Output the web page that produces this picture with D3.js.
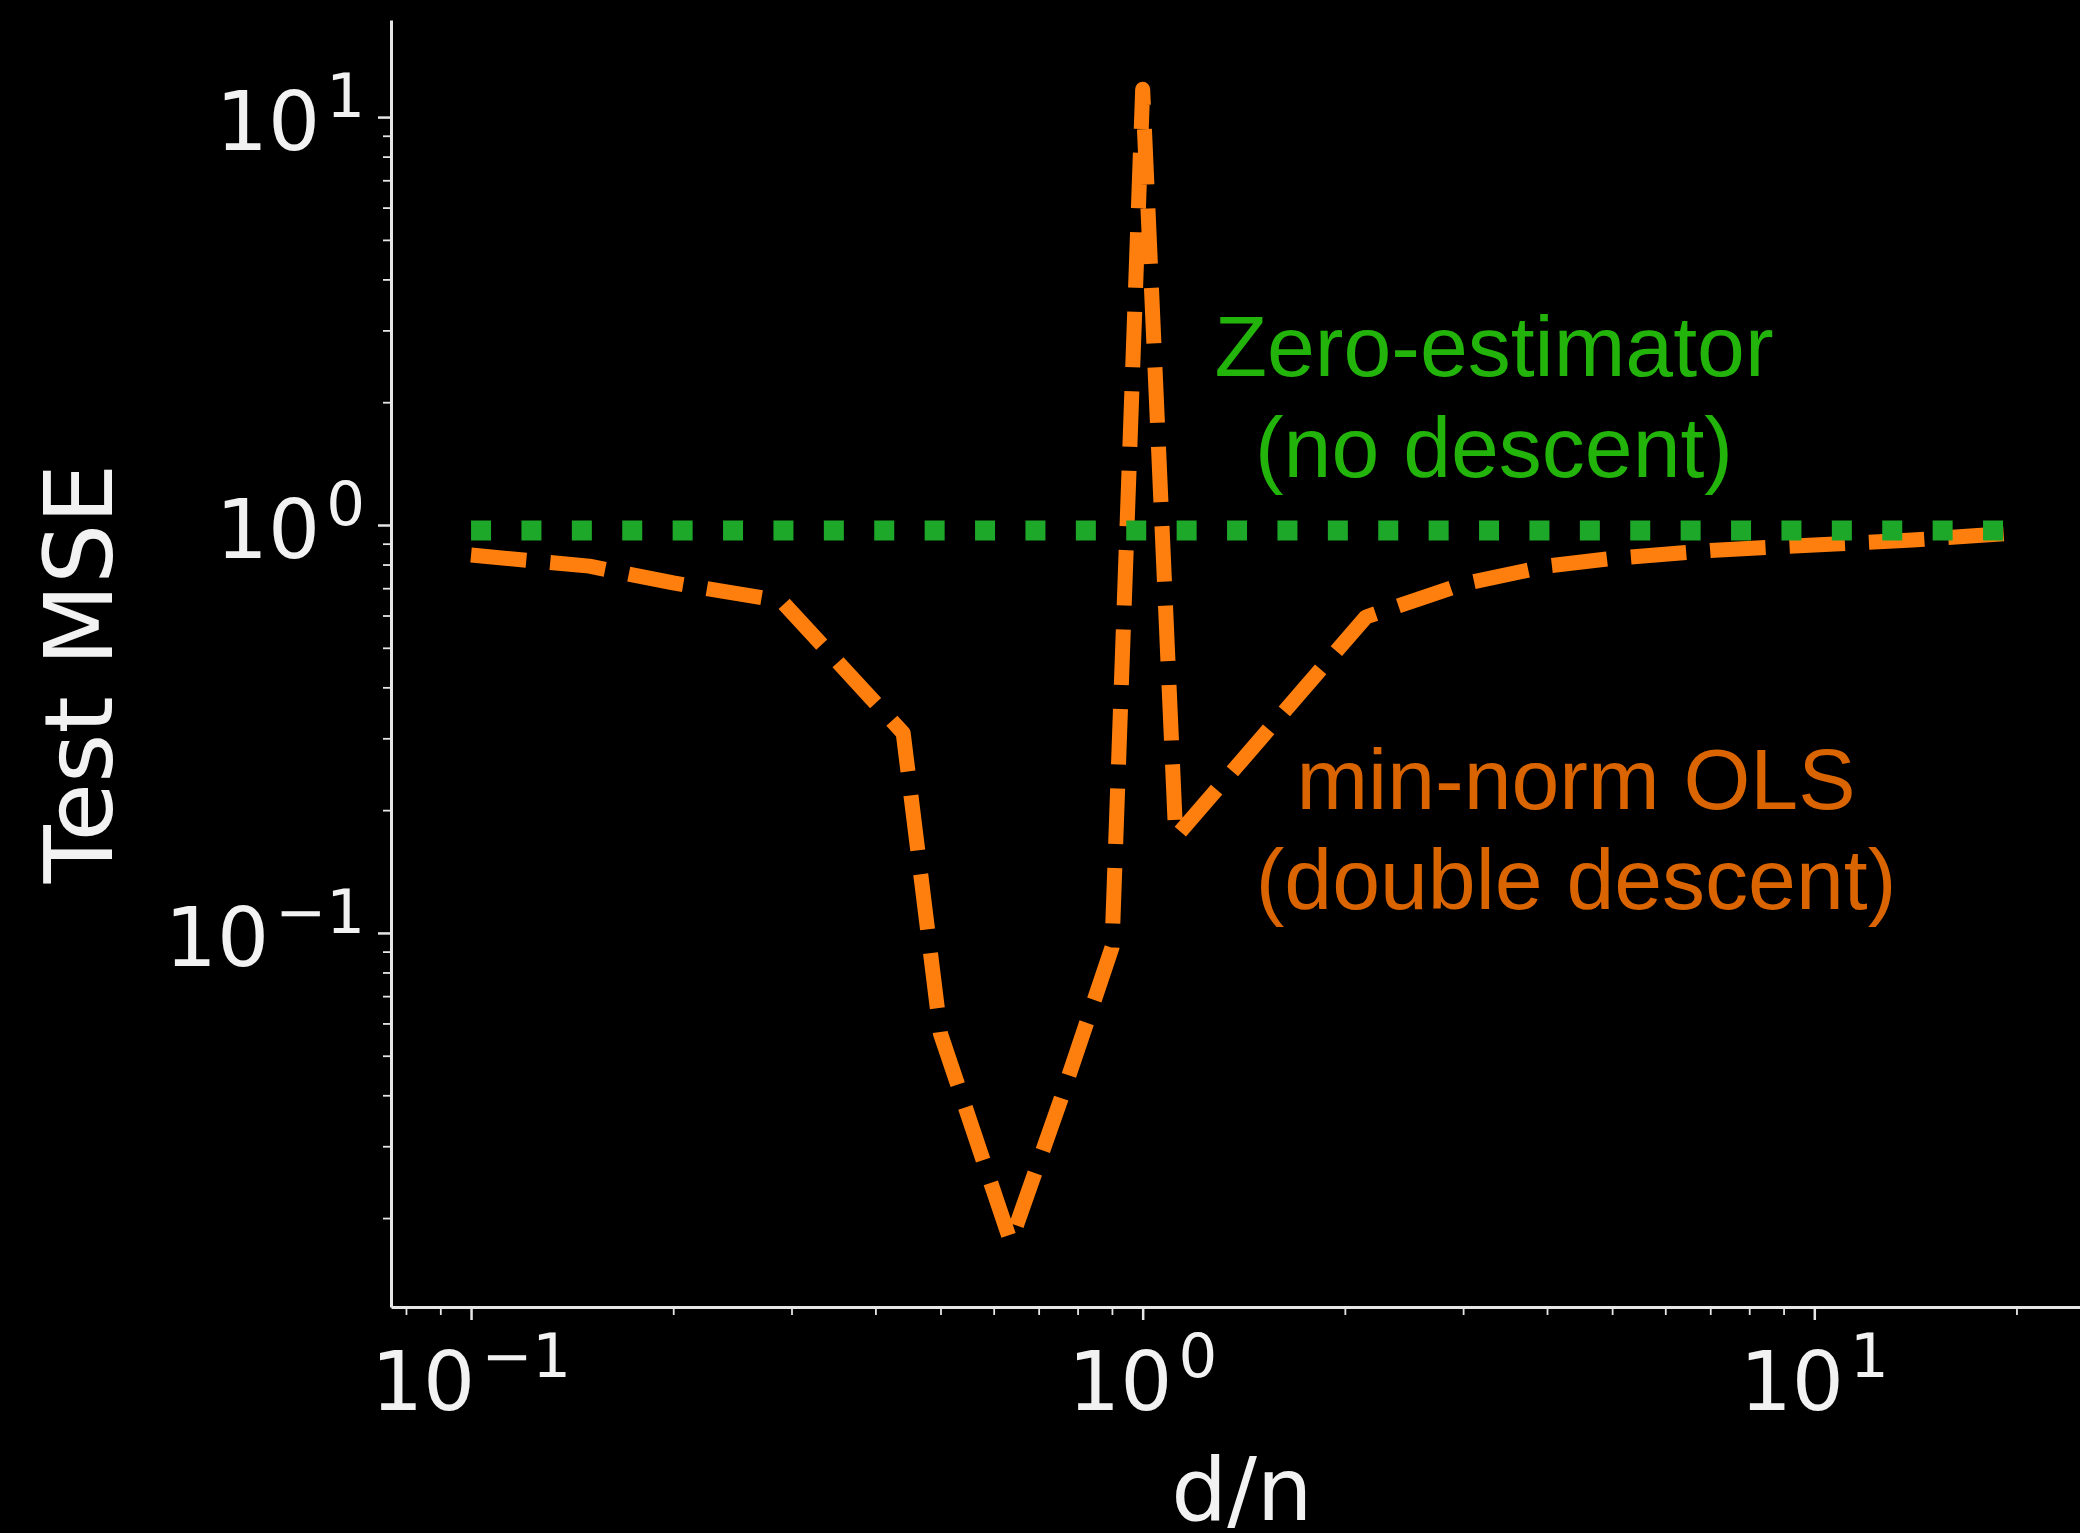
<!DOCTYPE html>
<html><head><meta charset="utf-8">
<script src="https://cdn.jsdelivr.net/npm/d3@7"></script>
<style>html,body{margin:0;padding:0;background:#000;overflow:hidden}</style>
</head><body><svg id="chart" width="2080" height="1533"></svg>
<script>
// ---- data ----
const dn      = [0.1,  0.15, 0.2,  0.29, 0.44, 0.5,    0.636,  0.755, 0.9,   1.0,  1.12, 2.15, 3,     4,     5,     7,     10,    14,    20];
const mseOLS  = [0.844,0.793,0.721,0.651,0.309,0.0566, 0.0175, 0.039, 0.092, 11.7, 0.172,0.595,0.717, 0.793, 0.828, 0.866, 0.893, 0.919, 0.956];
const zeroDn  = [0.1, 20];
const mseZero = [0.97, 0.97];
const majorTicks = [0.1, 1, 10];
const majorExp   = ["\u22121", "0", "1"];
const xMinor = [0.08,0.09,0.2,0.3,0.4,0.5,0.6,0.7,0.8,0.9,2,3,4,5,6,7,8,9,20];
const yMinor = [0.02,0.03,0.04,0.05,0.06,0.07,0.08,0.09,0.2,0.3,0.4,0.5,0.6,0.7,0.8,0.9,2,3,4,5,6,7,8,9];
const xLabel = "d/n";
const yLabel = "Test MSE";
const greenText = ["Zero-estimator", "(no descent)"];
const orangeText = ["min-norm OLS", "(double descent)"];

// ---- layout ----
const L = 391, T = 20, W = 1702, H = 1287;
const svg = d3.select("#chart");
svg.append("rect").attr("width", 2080).attr("height", 1533).attr("fill", "#000");

const x = d3.scaleLog().domain([0.0760, 26.0]).range([L, L + W]);
const y = d3.scaleLog().domain([Math.pow(10,-1.917), Math.pow(10,1.238)]).range([T + H, T]);

const axisCol = "#e6e6e6";

// x axis
const gx = svg.append("g").attr("transform", `translate(0,${T+H})`);
gx.call(d3.axisBottom(x).tickValues(majorTicks).tickSize(13).tickSizeOuter(0).tickFormat(""));
const gxm = svg.append("g").attr("transform", `translate(0,${T+H})`);
gxm.call(d3.axisBottom(x).tickValues(xMinor).tickSize(8).tickSizeOuter(0).tickFormat(""));
gxm.select(".domain").remove();

// y axis
const gy = svg.append("g").attr("transform", `translate(${L},0)`);
gy.call(d3.axisLeft(y).tickValues(majorTicks).tickSize(13).tickSizeOuter(0).tickFormat(""));
const gym = svg.append("g").attr("transform", `translate(${L},0)`);
gym.call(d3.axisLeft(y).tickValues(yMinor).tickSize(8).tickSizeOuter(0).tickFormat(""));
gym.select(".domain").remove();

svg.selectAll(".domain").attr("stroke", axisCol).attr("stroke-width", 3);
gx.selectAll(".tick line").attr("stroke", axisCol).attr("stroke-width", 2.5);
gy.selectAll(".tick line").attr("stroke", axisCol).attr("stroke-width", 2.5);
gxm.selectAll(".tick line").attr("stroke", axisCol).attr("stroke-width", 1.8);
gym.selectAll(".tick line").attr("stroke", axisCol).attr("stroke-width", 1.8);

// tick labels (10^k)
function powLabel(g, v, e, px, py, anchor) {
  const t = g.append("text").attr("x", px).attr("y", py)
    .attr("text-anchor", anchor).attr("fill", "#f2f2f2")
    .attr("font-family", "DejaVu Sans").attr("font-size", 82);
  t.append("tspan").text("10");
  t.append("tspan").attr("font-size", 61).attr("dx", 6).attr("dy", -33).text(e);
}
const lab = svg.append("g");
majorTicks.forEach((v, i) => powLabel(lab, v, majorExp[i], x(v), 1410, "middle"));
majorTicks.forEach((v, i) => powLabel(lab, v, majorExp[i], 365, y(v) + 33, "end"));

// axis titles
svg.append("text").attr("x", L + W/2).attr("y", 1520).attr("text-anchor", "middle")
  .attr("fill", "#f2f2f2").attr("font-family", "DejaVu Sans").attr("font-size", 88).text(xLabel);
svg.append("text").attr("transform", `translate(112,${T + H/2 + 10}) rotate(-90)`)
  .attr("text-anchor", "middle").attr("fill", "#f2f2f2")
  .attr("font-family", "DejaVu Sans").attr("font-size", 95).text(yLabel);

// lines
const line = d3.line().x(d => x(d[0])).y(d => y(d[1]));
const ols = dn.map((d, i) => [d, mseOLS[i]]);
const zero = zeroDn.map((d, i) => [d, mseZero[i]]);

svg.append("path").attr("d", line(ols)).attr("fill", "none")
  .attr("stroke", "#ff7f0e").attr("stroke-width", 15)
  .attr("stroke-dasharray", "55.5,24").attr("stroke-linejoin", "round").attr("stroke-linecap", "butt");
svg.append("path").attr("d", line(zero)).attr("fill", "none")
  .attr("stroke", "#1ea82a").attr("stroke-width", 20)
  .attr("stroke-dasharray", "20,30.4").attr("stroke-linecap", "butt");

// annotations
const gt = svg.append("text").attr("text-anchor", "middle").attr("fill", "#22b40a")
  .attr("font-family", "Liberation Sans, Arial, sans-serif").attr("font-size", 86);
gt.append("tspan").attr("x", 1494).attr("y", 376).text(greenText[0]);
gt.append("tspan").attr("x", 1494).attr("y", 477).text(greenText[1]);
const ot = svg.append("text").attr("text-anchor", "middle").attr("fill", "#d96400")
  .attr("font-family", "Liberation Sans, Arial, sans-serif").attr("font-size", 86);
ot.append("tspan").attr("x", 1576).attr("y", 809).text(orangeText[0]);
ot.append("tspan").attr("x", 1576).attr("y", 909).text(orangeText[1]);
</script></body></html>
